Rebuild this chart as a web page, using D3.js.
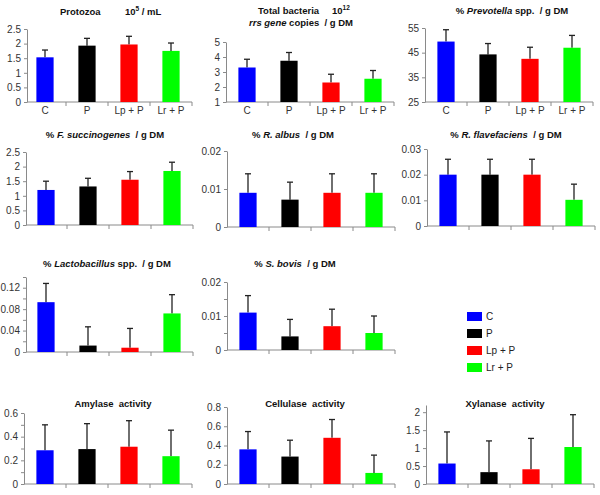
<!DOCTYPE html>
<html><head><meta charset="utf-8">
<script src="https://cdn.jsdelivr.net/npm/d3@7"></script>
<style>body{margin:0;background:#fff}svg{font-family:"Liberation Sans",Arial,sans-serif}text{white-space:pre}</style>
</head><body><svg id="c" width="600" height="495"></svg>
<script>
const categories = ["C", "P", "Lp + P", "Lr + P"];
const colors = ["#0000ff", "#000000", "#ff0000", "#00ff00"];

const protozoa = [1.53, 1.93, 1.97, 1.75];
const protozoaErr = [0.25, 0.25, 0.28, 0.27];
const totalBacteria = [3.3, 3.75, 2.3, 2.55];
const totalBacteriaErr = [0.55, 0.55, 0.55, 0.55];
const prevotella = [49.5, 44.3, 42.5, 47.0];
const prevotellaErr = [4.8, 4.4, 4.7, 5.0];
const fSuccinogenes = [1.2, 1.32, 1.55, 1.85];
const fSuccinogenesErr = [0.3, 0.28, 0.28, 0.3];
const rAlbus = [0.009, 0.0072, 0.009, 0.009];
const rAlbusErr = [0.005, 0.0046, 0.005, 0.005];
const rFlavefaciens = [0.02, 0.02, 0.02, 0.0102];
const rFlavefaciensErr = [0.006, 0.006, 0.006, 0.0061];
const lactobacillus = [0.093, 0.012, 0.008, 0.072];
const lactobacillusErr = [0.035, 0.035, 0.036, 0.035];
const sBovis = [0.011, 0.004, 0.007, 0.005];
const sBovisErr = [0.005, 0.005, 0.005, 0.005];
const amylase = [0.285, 0.295, 0.315, 0.235];
const amylaseErr = [0.215, 0.215, 0.22, 0.22];
const cellulase = [0.36, 0.285, 0.48, 0.115];
const cellulaseErr = [0.185, 0.17, 0.19, 0.185];
const xylanase = [0.57, 0.33, 0.41, 1.03];
const xylanaseErr = [0.88, 0.87, 0.86, 0.9];

const ticksProtozoa = [0, 0.5, 1, 1.5, 2, 2.5];
const ticksTotal = [1, 2, 3, 4, 5];
const ticksPrevotella = [25, 35, 45, 55];
const ticksFSucc = [0, 0.5, 1, 1.5, 2, 2.5];
const ticksRAlbus = [0, 0.01, 0.02];
const ticksRFlav = [0, 0.01, 0.02, 0.03];
const ticksLacto = [0, 0.04, 0.08, 0.12];
const minorLacto = [0.02, 0.06, 0.10, 0.14];
const ticksSBovis = [0, 0.01, 0.02];
const minorSBovis = [0.005, 0.015];
const ticksAmylase = [0, 0.2, 0.4, 0.6];
const minorAmylase = [0.1, 0.3, 0.5];
const ticksCellulase = [0, 0.2, 0.4, 0.6, 0.8];
const ticksXylanase = [0, 0.5, 1, 1.5, 2];

const B = "bold", I = "bolditalic";
const panels = [
  {v: protozoa, e: protozoaErr, dom: [0, 2.5], ticks: ticksProtozoa, ax: 27, x0: 24, top: 29, bot: 102, labels: true,
   title: [{x: 60, y: 15, a: "start", p: [["Protozoa", B]]}, {x: 125, y: 15, a: "start", p: [["10", B], ["5", "sup"], [" / mL", B]]}]},
  {v: totalBacteria, e: totalBacteriaErr, dom: [1, 5], ticks: ticksTotal, ax: 226, x0: 226, top: 42, bot: 102, labels: true,
   title: [{x: 258, y: 14, a: "start", p: [["Total bacteria", B]]}, {x: 332, y: 14, a: "start", p: [["10", B], ["12", "sup"]]},
           {x: 301, y: 26, a: "middle", p: [["rrs gene", I], [" copies  / g DM", B]]}]},
  {v: prevotella, e: prevotellaErr, dom: [25, 55], ticks: ticksPrevotella, ax: 425, x0: 425, top: 28, bot: 102, labels: true,
   title: [{x: 512, y: 14, a: "middle", p: [["% ", B], ["Prevotella", I], [" spp.  / g DM", B]]}]},
  {v: fSuccinogenes, e: fSuccinogenesErr, dom: [0, 2.5], ticks: ticksFSucc, ax: 26, x0: 25, top: 152, bot: 225,
   title: [{x: 105, y: 138, a: "middle", p: [["% ", B], ["F. succinogenes", I], ["  / g DM", B]]}]},
  {v: rAlbus, e: rAlbusErr, dom: [0, 0.02], ticks: ticksRAlbus, ax: 227, x0: 227, top: 151, bot: 227,
   title: [{x: 293, y: 138, a: "middle", p: [["% ", B], ["R. albus", I], ["  / g DM", B]]}]},
  {v: rFlavefaciens, e: rFlavefaciensErr, dom: [0, 0.03], ticks: ticksRFlav, ax: 427, x0: 427, top: 149, bot: 226,
   title: [{x: 506, y: 138, a: "middle", p: [["% ", B], ["R. flavefaciens", I], ["  / g DM", B]]}]},
  {v: lactobacillus, e: lactobacillusErr, dom: [0, 0.14], ticks: ticksLacto, minor: minorLacto, ax: 26, x0: 25, top: 277, bot: 352,
   title: [{x: 107, y: 267, a: "middle", p: [["% ", B], ["Lactobacillus", I], [" spp.  / g DM", B]]}]},
  {v: sBovis, e: sBovisErr, dom: [0, 0.02], ticks: ticksSBovis, minor: minorSBovis, ax: 227, x0: 227, top: 282, bot: 350,
   title: [{x: 295, y: 267, a: "middle", p: [["% ", B], ["S. bovis", I], ["  / g DM", B]]}]},
  {v: amylase, e: amylaseErr, dom: [0, 0.6], ticks: ticksAmylase, minor: minorAmylase, ax: 24, x0: 24, top: 413, bot: 484,
   title: [{x: 113, y: 407, a: "middle", p: [["Amylase  activity", B]]}]},
  {v: cellulase, e: cellulaseErr, dom: [0, 0.8], ticks: ticksCellulase, ax: 227, x0: 227, top: 407, bot: 484,
   title: [{x: 305, y: 407, a: "middle", p: [["Cellulase  activity", B]]}]},
  {v: xylanase, e: xylanaseErr, dom: [0, 2.2], ticks: ticksXylanase, ax: 426, x0: 426, top: 405, bot: 484,
   title: [{x: 505, y: 407, a: "middle", p: [["Xylanase  activity", B]]}]}
];

const svg = d3.select("#c");
const fmt = d3.format("~g");
const AX = "#8a8a8a";

panels.forEach(pn => {
  const g = svg.append("g");
  const x = d3.scaleBand().domain(categories).range([pn.x0, pn.x0 + 168]);
  const y = d3.scaleLinear().domain(pn.dom).range([pn.bot, pn.top]);

  g.append("g").attr("transform", `translate(${pn.ax},0)`)
    .call(d3.axisLeft(y).tickValues(pn.ticks).tickSize(3).tickSizeOuter(0).tickPadding(3).tickFormat(fmt));
  if (pn.minor) {
    g.append("g").attr("transform", `translate(${pn.ax},0)`)
      .call(d3.axisLeft(y).tickValues(pn.minor).tickSize(3).tickFormat(""))
      .call(s => s.select(".domain").remove());
  }
  const xa = g.append("g").attr("transform", `translate(0,${pn.bot})`)
    .call(d3.axisBottom(x).tickSize(0).tickPadding(5).tickFormat(pn.labels ? d => d : ""));
  xa.select(".domain").attr("d", `M${pn.ax},0H${pn.x0 + 168}`);
  g.selectAll(".bt").data(categories).join("line")
    .attr("x1", d => x(d) + x.bandwidth()).attr("x2", d => x(d) + x.bandwidth())
    .attr("y1", pn.bot).attr("y2", pn.bot + 4).attr("stroke", AX);

  g.selectAll(".domain, .tick line").attr("stroke", AX);
  g.selectAll(".tick text").attr("fill", "#333").attr("font-size", 10).attr("font-family", "Liberation Sans, Arial, sans-serif");

  const bw = x.bandwidth() * 0.41;
  const cx = d => x(d) + x.bandwidth() / 2;
  g.selectAll(".eb").data(categories).join("line")
    .attr("x1", cx).attr("x2", cx)
    .attr("y1", (d, i) => y(pn.v[i])).attr("y2", (d, i) => y(pn.v[i] + pn.e[i]))
    .attr("stroke", "#222").attr("stroke-width", 1.3);
  g.selectAll(".ec").data(categories).join("line")
    .attr("x1", d => cx(d) - 3).attr("x2", d => cx(d) + 3)
    .attr("y1", (d, i) => y(pn.v[i] + pn.e[i])).attr("y2", (d, i) => y(pn.v[i] + pn.e[i]))
    .attr("stroke", "#222").attr("stroke-width", 1.3);
  g.selectAll(".bar").data(categories).join("rect")
    .attr("x", d => cx(d) - bw / 2).attr("width", bw)
    .attr("y", (d, i) => y(pn.v[i])).attr("height", (d, i) => y(pn.dom[0]) - y(pn.v[i]))
    .attr("fill", (d, i) => colors[i]);

  pn.title.forEach(t => {
    const tx = g.append("text").attr("x", t.x).attr("y", t.y).attr("text-anchor", t.a)
      .attr("font-size", 9.5).attr("fill", "#111");
    t.p.forEach(([s, st], k) => {
      const ts = tx.append("tspan").text(s).attr("font-weight", "bold");
      if (st === "bolditalic") ts.attr("font-style", "italic");
      if (st === "sup") ts.attr("font-size", 6.5).attr("dy", -4);
      else if (k > 0 && t.p[k - 1][1] === "sup") ts.attr("dy", 4);
    });
  });
});

const leg = svg.append("g");
categories.forEach((c, i) => {
  leg.append("rect").attr("x", 467).attr("y", 312 + i * 17).attr("width", 15).attr("height", 9).attr("fill", colors[i]);
  leg.append("text").attr("x", 486).attr("y", 320 + i * 17).attr("font-size", 10).attr("fill", "#222").text(c);
});
</script></body></html>
